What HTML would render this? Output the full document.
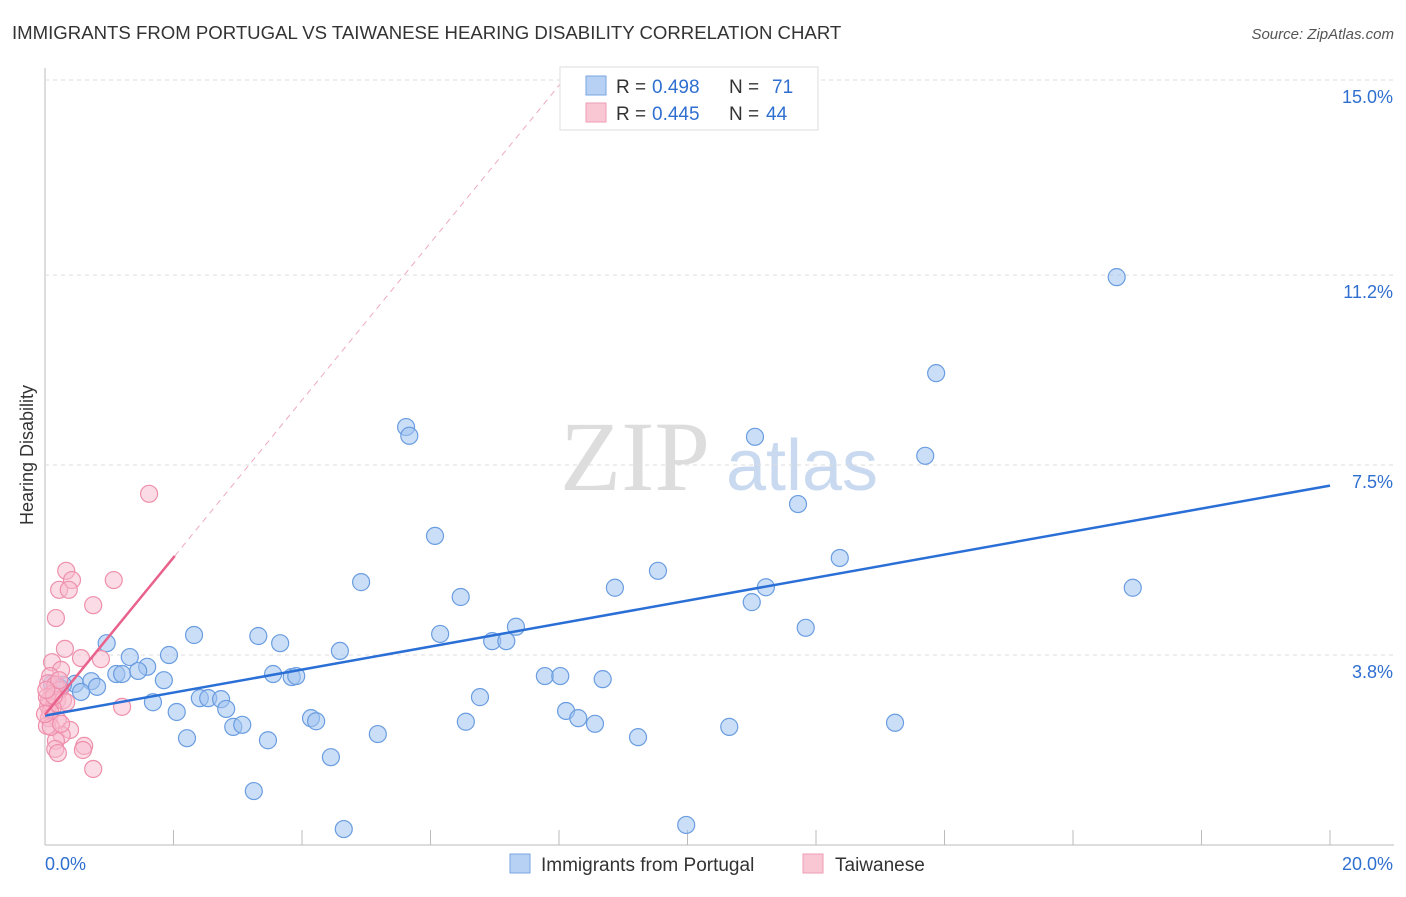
<!DOCTYPE html>
<html><head><meta charset="utf-8"><style>
body{margin:0;background:#fff;font-family:"Liberation Sans",sans-serif}
</style></head><body>
<svg width="1406" height="892" xmlns="http://www.w3.org/2000/svg" id="chart">
<text x="12" y="39" font-size="18.6" fill="#333">IMMIGRANTS FROM PORTUGAL VS TAIWANESE HEARING DISABILITY CORRELATION CHART</text>
<text x="1394" y="39" font-size="15" fill="#555" font-style="italic" text-anchor="end">Source: ZipAtlas.com</text>
<text x="33" y="455" font-size="18" fill="#333" text-anchor="middle" transform="rotate(-90 33 455)">Hearing Disability</text>
<g><text x="635" y="490" font-size="100" fill="#ddd" font-family="Liberation Serif" text-anchor="middle">ZIP</text><text x="802" y="490" font-size="72" fill="#c9d9f0" text-anchor="middle">atlas</text></g>
<g id="grid"></g><g id="marks"></g>
<g>
<rect x="560" y="67" width="258" height="63" fill="#fff" stroke="#ddd"/>
<rect x="586" y="76" width="20" height="19" fill="#b7d1f4" stroke="#7aa6e0"/>
<rect x="586" y="103" width="20" height="19" fill="#f9c6d4" stroke="#ee9db3"/>
<text x="616" y="93" font-size="19" fill="#333">R =</text><text x="652" y="93" font-size="19" fill="#2f6fd0">0.498</text>
<text x="729" y="93" font-size="19" fill="#333">N =</text><text x="772" y="93" font-size="19" fill="#2f6fd0">71</text>
<text x="616" y="120" font-size="19" fill="#333">R =</text><text x="652" y="120" font-size="19" fill="#2f6fd0">0.445</text>
<text x="729" y="120" font-size="19" fill="#333">N =</text><text x="766" y="120" font-size="19" fill="#2f6fd0">44</text>
</g>
<g>
<rect x="510" y="854" width="20" height="19" fill="#b7d1f4" stroke="#7aa6e0"/>
<text x="541" y="871" font-size="19" fill="#333">Immigrants from Portugal</text>
<rect x="803" y="854" width="20" height="19" fill="#f9c6d4" stroke="#ee9db3"/>
<text x="835" y="871" font-size="19" fill="#333">Taiwanese</text>
</g>
</svg>
<script>
const xTicks=[0,2,4,6,8,10,12,14,16,18,20];
const yTickVals=[15,11.2,7.5,3.8];
const yTickLabels=["15.0%","11.2%","7.5%","3.8%"];
const bluePx=[[1117,277],[936,373],[406,427],[409,436],[755,437],[925,456],[798,504],[435,536],[840,558],[658,571],[361,582],[615,588],[766,587],[1133,588],[752,602],[461,597],[516,627],[806,628],[194,635],[440,634],[258,636],[280,643],[492,641],[506,641],[107,643],[340,651],[169,655],[130,657],[147,667],[116,674],[122,674],[138,671],[273,674],[292,677],[296,676],[164,680],[545,676],[560,676],[603,679],[75,684],[91,681],[97,687],[63,685],[52,684],[81,692],[480,697],[153,702],[200,698],[208,698],[221,699],[226,709],[177,712],[566,711],[311,718],[316,721],[466,722],[578,718],[595,724],[895,723],[233,727],[242,725],[729,727],[187,738],[268,740],[378,734],[638,737],[331,757],[254,791],[344,829],[686,825],[60,688]];
const pinkPx=[[149,494],[66,571],[72,580],[59,590],[69,590],[114,580],[93,605],[56,618],[65,649],[81,658],[101,659],[52,662],[61,670],[50,676],[48,683],[55,685],[60,690],[52,694],[49,700],[57,700],[63,700],[66,702],[48,706],[53,708],[122,707],[50,712],[49,718],[58,720],[47,726],[70,730],[62,735],[56,741],[84,746],[83,750],[55,749],[58,753],[93,769],[47,697],[54,696],[59,680],[46,690],[51,727],[61,724],[45,714]];
const blueX=bluePx.map(p=>+((p[0]-45)/64.25).toFixed(2));
const blueY=bluePx.map(p=>+(15-(p[1]-80)/51.34).toFixed(2));
const pinkX=pinkPx.map(p=>+((p[0]-45)/64.25).toFixed(2));
const pinkY=pinkPx.map(p=>+(15-(p[1]-80)/51.34).toFixed(2));
const blueTrend=[[0,2.62],[20,7.1]];
const pinkTrend=[[0,2.64],[2.02,5.73]];
const pinkDash=[[2.02,5.73],[8.2,15.2]];
const X=v=>45+v*64.25, Y=v=>80+(15-v)*51.34;
const NS="http://www.w3.org/2000/svg";
function mk(tag,attrs,parent){const e=document.createElementNS(NS,tag);for(const k in attrs)e.setAttribute(k,attrs[k]);parent.appendChild(e);return e;}
const grid=document.getElementById('grid'),marks=document.getElementById('marks');
mk('line',{x1:45,y1:68,x2:45,y2:845,stroke:'#bbb'},grid);
mk('line',{x1:45,y1:845,x2:1394,y2:845,stroke:'#bbb'},grid);
yTickVals.forEach((v,i)=>{
 const g=mk('line',{x1:45,y1:Y(v),x2:1394,y2:Y(v),stroke:'#ddd','stroke-dasharray':'4,4'},grid);
 
 
 const t=mk('text',{x:1393,y:Y(v)+23,'font-size':18,fill:'#2f6fd0','text-anchor':'end'},grid);
 t.textContent=yTickLabels[i];
 
 
});
xTicks.forEach(v=>{
 const l=mk('line',{x1:X(v),y1:830,x2:X(v),y2:845,stroke:'#bbb'},grid);
 
 
});
const xl=mk('text',{x:45,y:870,'font-size':18,fill:'#2f6fd0'},grid);xl.textContent='0.0%';


const xr=mk('text',{x:1393,y:870,'font-size':18,fill:'#2f6fd0','text-anchor':'end'},grid);xr.textContent='20.0%';


blueX.forEach((x,i)=>{
 const c=mk('circle',{cx:X(x),cy:Y(blueY[i]),r:8.5,fill:'rgba(160,195,240,0.55)',stroke:'#6a9de0','stroke-width':1.2},marks);
 
 
});
pinkX.forEach((x,i)=>{
 const c=mk('circle',{cx:X(x),cy:Y(pinkY[i]),r:8.5,fill:'rgba(248,185,205,0.5)',stroke:'#ee8fab','stroke-width':1.2},marks);
 
 
});
const bl=mk('line',{x1:X(blueTrend[0][0]),y1:Y(blueTrend[0][1]),x2:X(blueTrend[1][0]),y2:Y(blueTrend[1][1]),stroke:'#2a6fd6','stroke-width':2.5},marks);


const pl=mk('line',{x1:X(pinkTrend[0][0]),y1:Y(pinkTrend[0][1]),x2:X(pinkTrend[1][0]),y2:Y(pinkTrend[1][1]),stroke:'#e8628c','stroke-width':2.5},marks);


const pd=mk('line',{x1:X(pinkDash[0][0]),y1:Y(pinkDash[0][1]),x2:X(pinkDash[1][0]),y2:Y(pinkDash[1][1]),stroke:'#eeaabf','stroke-width':1,'stroke-dasharray':'6,5'},marks);


</script>
</body></html>
